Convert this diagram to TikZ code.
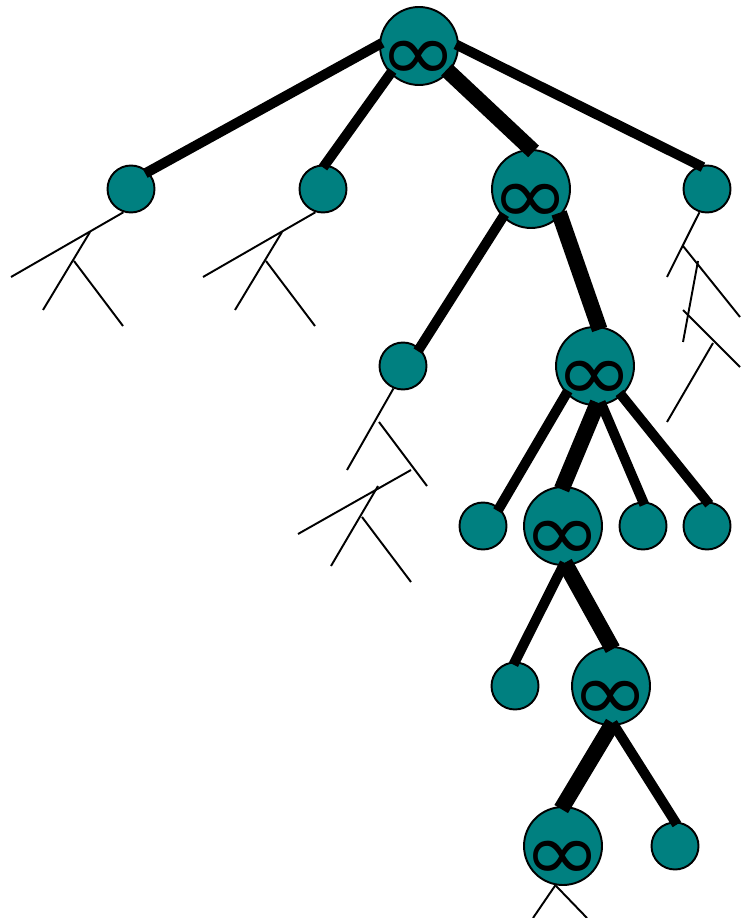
\documentclass[tikz,border=0pt]{standalone}
\usepackage{fontspec}
\newfontfamily\inffont{DejaVu Sans}
\usetikzlibrary{positioning}
\definecolor{nodeteal}{RGB}{0,128,128}

\begin{document}
\begin{tikzpicture}[
    x=0.02cm, y=-0.02cm,
    leaf/.style={circle, draw, line width=1.1pt, fill=nodeteal, minimum size=0.94cm, inner sep=0pt},
    inf/.style={leaf, minimum size=1.56cm, label={[font=\inffont\fontsize{46}{46}\selectfont, yshift=-0.29cm]center:\scalebox{1.16}[1]{∞}}},
    edge/.style={line width=5.7pt, shorten <=-2pt, shorten >=-2pt},
    mainedge/.style={edge, line width=9pt},
    stub/.style={line width=1.1pt},
]
    \useasboundingbox (0,0) rectangle (740,918);

    % Nodes, level by level
    \node[inf] (root) at (419,46) {};

    \node[leaf] (n1a) at (131,189) {};
    \node[leaf] (n1b) at (323,189) {};
    \node[inf] (n1c) at (531,189) {};
    \node[leaf] (n1d) at (707,189) {};

    \node[leaf] (n2a) at (403,366) {};
    \node[inf] (n2b) at (595,366) {};

    \node[leaf] (n3a) at (483,526) {};
    \node[inf] (n3b) at (563,526) {};
    \node[leaf] (n3c) at (643,526) {};
    \node[leaf] (n3d) at (707,526) {};

    \node[leaf] (n4a) at (515,686) {};
    \node[inf] (n4b) at (611,686) {};

    \node[inf] (n5a) at (563,846) {};
    \node[leaf] (n5b) at (675,846) {};

    % Edges
    \draw[edge] (root.178) -- (n1a.45);
    \draw[edge] (root.224) -- (n1b.85);
    \draw[mainedge] (root.-41) -- (n1c.90);
    \draw[edge] (root.0) -- (n1d.107);

    \draw[edge] (n1c.225) -- (n2a.47);
    \draw[mainedge] (n1c.-43) -- (n2b.85);

    \draw[edge] (n2b.224) -- (n3a.48);
    \draw[mainedge] (n2b.-88) -- (n3b.90);
    \draw[edge] (n2b.-80) -- (n3c.90);
    \draw[edge] (n2b.-48) -- (n3d.90);

    \draw[edge] (n3b.-90) -- (n4a.90);
    \draw[mainedge] (n3b.-85) -- (n4b.90);

    \draw[mainedge] (n4b.-90) -- (n5a.90);
    \draw[edge] (n4b.-85) -- (n5b.90);

    % Stubs of the subtrees left out
    \draw[stub] (n1a.-108) -- (11,277);
    \draw[stub] (90,232) -- (43,310);
    \draw[stub] (74,261) -- (123,326);

    \draw[stub] (n1b.-108) -- (203,277);
    \draw[stub] (282,232) -- (235,310);
    \draw[stub] (266,261) -- (315,326);

    \draw[stub] (n1d.-108) -- (667,277);
    \draw[stub] (683,246) -- (740,317);
    \draw[stub] (698,261) -- (683,342);
    \draw[stub] (683,310) -- (740,367);
    \draw[stub] (713,343) -- (667,422);

    \draw[stub] (n2a.-113) -- (347,470);
    \draw[stub] (379,422) -- (427,486);
    \draw[stub] (411,470) -- (298,534);
    \draw[stub] (378,486) -- (331,566);
    \draw[stub] (362,517) -- (411,582);

    \draw[stub] (n5a.-101) -- (533,918);
    \draw[stub] (n5a.-101) -- (587,918);
\end{tikzpicture}
\end{document}
